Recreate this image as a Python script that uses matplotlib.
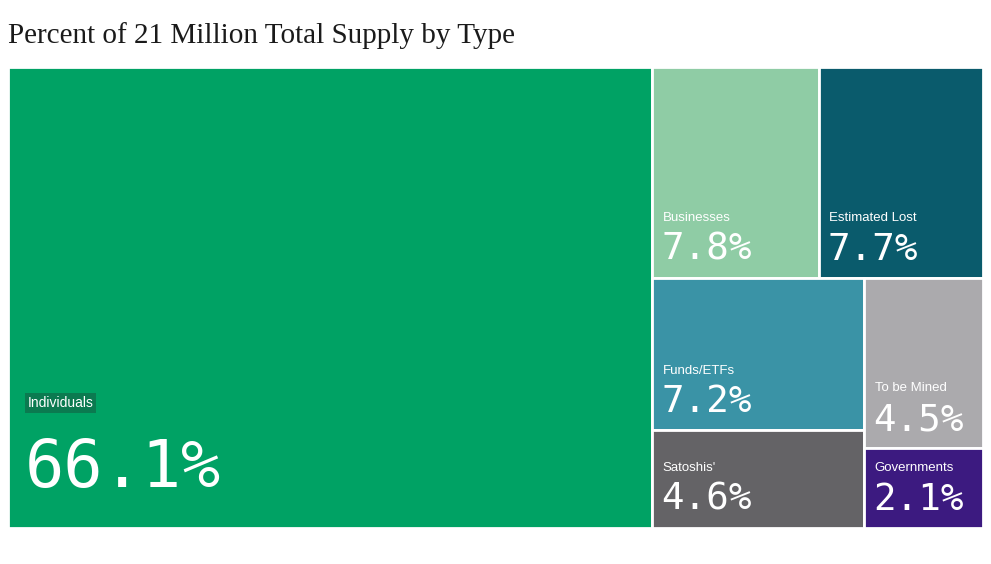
import matplotlib
matplotlib.use("Agg")
import matplotlib.pyplot as plt
from matplotlib.patches import Rectangle
from matplotlib.transforms import offset_copy

# data
labels = ["Individuals", "Businesses", "Estimated Lost", "Funds/ETFs",
          "Satoshis'", "To be Mined", "Governments"]
values = [66.1, 7.8, 7.7, 7.2, 4.6, 4.5, 2.1]
colors = ["#00A264", "#8FCCA5", "#0A5B6C", "#3A93A6",
          "#646366", "#ABAAAD", "#3C1A80"]
# nesting of the treemap: columns / rows alternate at each level
tree = [0, [[1, 2], [[3, 4], [5, 6]]]]


def subtotal(node):
    if isinstance(node, int):
        return values[node]
    return sum(subtotal(n) for n in node)


def layout(node, x, y, w, h, horiz, out):
    if isinstance(node, int):
        out[node] = (x, y, w, h)
        return
    tot = subtotal(node)
    if horiz:
        cx = x
        for child in node:
            cw = w * subtotal(child) / tot
            layout(child, cx, y, cw, h, not horiz, out)
            cx += cw
    else:
        cy = y + h
        for child in node:
            ch = h * subtotal(child) / tot
            cy -= ch
            layout(child, x, cy, w, ch, not horiz, out)


rects = {}
layout(tree, 0, 0, 1, 1, True, rects)

W, H = 991, 564
fig = plt.figure(figsize=(W / 100, H / 100), dpi=100)
ax = fig.add_axes([8 / W, (H - 528) / H, 975 / W, 461 / H])
ax.set_xlim(0, 1)
ax.set_ylim(0, 1)
ax.axis("off")

for i, (x, y, w, h) in rects.items():
    ax.add_patch(Rectangle((x, y), w, h, facecolor=colors[i],
                           edgecolor="white", linewidth=2))
    big = i == 0
    dx = 14 if big else 7.5
    pct_tr = offset_copy(ax.transData, fig=fig, x=dx - (2 if big else 1),
                         y=29.5 if big else 13, units="points")
    lab_tr = offset_copy(ax.transData, fig=fig, x=dx,
                         y=87 if big else 41, units="points")
    ax.text(x, y, f"{values[i]:.1f}%", transform=pct_tr, color="white",
            fontsize=47 if big else 27, family="DejaVu Sans Mono",
            ha="left", va="baseline")
    kw = {}
    if big:
        kw["bbox"] = dict(boxstyle="square,pad=0.2", facecolor="#0B7A50",
                          edgecolor="none")
    ax.text(x, y, labels[i], transform=lab_tr, color="white",
            fontsize=10 if big else 9.5, family="Liberation Sans",
            ha="left", va="baseline", **kw)

fig.text(8 / W, 1 - 43 / H, "Percent of 21 Million Total Supply by Type",
         family="Liberation Serif", fontsize=21, color="#1a1a1a",
         ha="left", va="baseline")

fig.savefig("out.png", dpi=100, facecolor="white")
